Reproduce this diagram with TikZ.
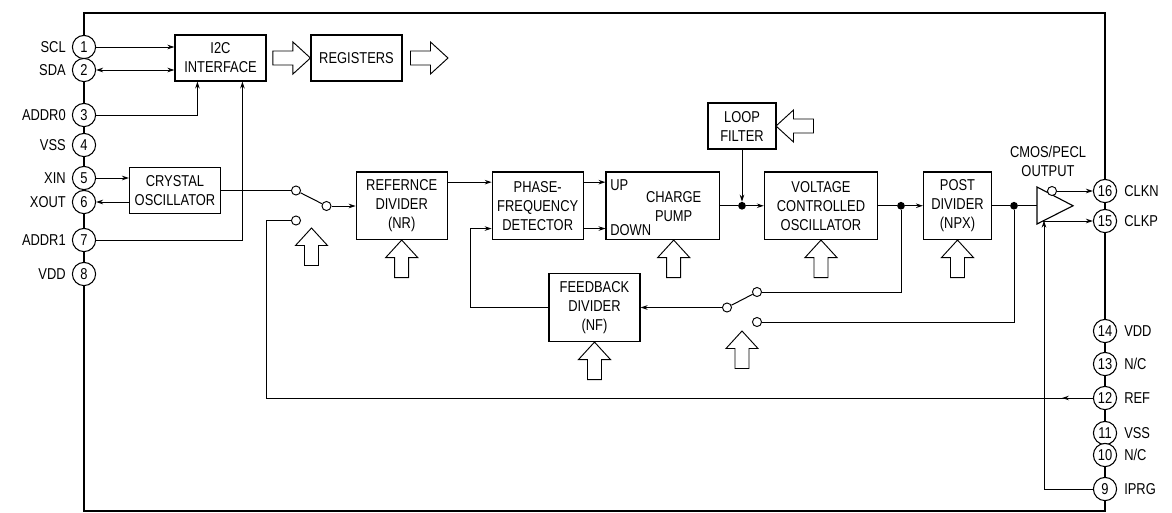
\documentclass[tikz,border=0pt]{standalone}
\usepackage{fontspec}
\setmainfont[FakeStretch=0.82]{Liberation Sans}
\usetikzlibrary{arrows.meta,calc}
\tikzset{
  x=0.75pt,y=-0.75pt,
  txt/.style={font=\fontsize{11.8}{14.25}\selectfont,align=center,inner sep=0pt},
  block/.style={txt,draw=black,line width=0.85pt,rectangle,inner sep=0pt},
  pin/.style={txt,draw=black,fill=white,circle,line width=0.8pt,minimum size=17.4pt},
  term/.style={draw=black,fill=white,circle,line width=0.7pt,minimum size=6.8pt,inner sep=0pt},
  jdot/.style={fill=black,circle,minimum size=5.8pt,inner sep=0pt},
  lleft/.style={txt,anchor=east},
  lright/.style={txt,anchor=west},
  wire/.style={line width=0.75pt},
  arr/.style={wire,-{Stealth[length=5.2pt,width=3.4pt]}},
  darr/.style={wire,{Stealth[length=5.2pt,width=3.4pt]}-{Stealth[length=5.2pt,width=3.4pt]}},
  hollowup/.pic={\draw[line width=0.7pt,line join=miter] (0,0) -- (16,17.5) -- (7,17.5) -- (7,37.5) -- (-7,37.5) -- (-7,17.5) -- (-16,17.5) -- cycle;}
}
\begin{document}
\begin{tikzpicture}
\useasboundingbox (0,0) rectangle (1172,512);
% outer frame
\coordinate (fa) at (84,13); \coordinate (fb) at (1105,511);
\draw[line width=1.5pt] (fa) rectangle (fb);
% blocks
\node[block,minimum width=68.25pt,minimum height=34.5pt] (i2c) at (220.5,58) {I2C\\INTERFACE};
\node[block,minimum width=68.25pt,minimum height=34.5pt] (reg) at (356.5,58) {REGISTERS};
\node[block,minimum width=68.25pt,minimum height=34.5pt] (xtal) at (175,190.5) {CRYSTAL\\OSCILLATOR};
\node[block,minimum width=68.25pt,minimum height=50.6pt] (refd) at (401.7,205.75) {REFERNCE\\DIVIDER\\(NR)};
\node[block,minimum width=68.25pt,minimum height=50.6pt] (pfd) at (537.7,205.75) {PHASE-\\FREQUENCY\\DETECTOR};
\node[block,minimum width=85pt,minimum height=50.6pt] (cp) at (662.7,205.75) {};
\node[txt] (cpt) at (673.7,206.5) {CHARGE\\PUMP};
\node[txt,anchor=west] (up) at (610,185) {UP};
\node[txt,anchor=west] (down) at (610,230.5) {DOWN};
\node[block,minimum width=51pt,minimum height=34.5pt] (lf) at (742,126) {LOOP\\FILTER};
\node[block,minimum width=85pt,minimum height=50.6pt] (vco) at (821,205.75) {VOLTAGE\\CONTROLLED\\OSCILLATOR};
\node[block,minimum width=51pt,minimum height=50.6pt] (post) at (957.5,205.75) {POST\\DIVIDER\\(NPX)};
\node[block,minimum width=68.25pt,minimum height=51pt] (fbd) at (594.5,307.5) {FEEDBACK\\DIVIDER\\(NF)};
\node[txt] (outl) at (1048,161.5) {CMOS/PECL\\OUTPUT};
% left pins
\foreach \n/\y/\l in {1/47/SCL,2/70/SDA,3/115/ADDR0,4/145/VSS,5/178/XIN,6/202/XOUT,7/240/ADDR1,8/274/VDD}{
  \node[pin] (p\n) at (84,\y) {\n};
  \node[lleft] (l\n) at (66,\y) {\l};
}
% right pins
\foreach \n/\y/\l in {16/191/CLKN,15/221/CLKP,14/331/VDD,13/364/N\slash C,12/398/REF,11/433/VSS,10/455/N\slash C,9/489/IPRG}{
  \node[pin] (p\n) at (1105,\y) {\n};
  \node[lright] (l\n) at (1124,\y) {\l};
}
% switches
\node[term] (sa) at (296,190.5) {};
\node[term] (sb) at (296,220.5) {};
\node[term] (sc) at (326.5,206) {};
\node[term] (ta) at (757,292) {};
\node[term] (tb) at (757,322) {};
\node[term] (tc) at (727,307.5) {};
\draw[wire] (sa) -- (sc);
\draw[wire] (tc) -- (ta);
% junction dots
\node[jdot] (d1) at (742,205.75) {};
\node[jdot] (d2) at (901,205.75) {};
\node[jdot] (d3) at (1014,205.75) {};
% output buffer
\coordinate (tl) at (1037,187); \coordinate (bl) at (1037,224); \coordinate (tip) at (1073,205.75);
\coordinate (bin) at (1037,205.75);
\coordinate (ipin) at (1044,220.6);
\coordinate (kout) at (1043,221);
\draw[line width=0.85pt,line join=miter] (tl) -- (bl) -- (tip) -- cycle;
\node[term] (bub) at (1052,191) {};
% connectors
\draw[arr] (p1) -- (p1 -| i2c.west);
\draw[darr] (p2) -- (p2 -| i2c.west);
\draw[arr] (p3) -| ($(i2c.south west)+(23,0)$);
\draw[arr] (p7) -| ($(i2c.south west)+(68,0)$);
\draw[arr] (p5) -- (p5 -| xtal.west);
\draw[arr] (p6 -| xtal.west) -- (p6);
\draw[wire] (xtal) -- (sa);
\draw[arr] (sc) -- (sc -| refd.west);
\coordinate (rout) at ($(refd.north east)+(0,10.7)$);
\draw[arr] (rout) -- (rout -| pfd.west);
\coordinate (pup) at ($(pfd.north east)+(0,10.7)$);
\coordinate (pdn) at ($(pfd.south east)+(0,-11.5)$);
\draw[arr] (pup) -- (pup -| cp.west);
\draw[arr] (pdn) -- (pdn -| cp.west);
\draw[wire] (cp) -- (d1);
\draw[arr] (d1) -- (vco);
\draw[arr] (lf) -- (d1);
\draw[wire] (vco) -- (d2);
\draw[arr] (d2) -- (post);
\draw[wire] (post) -- (d3);
\draw[wire] (d3) -- (bin);
\draw[arr] (bub) -- (p16);
\draw[arr] (kout) -- (p15);
\draw[wire] (ta) -| (d2);
\draw[wire] (tb) -| (d3);
\draw[arr] (tc) -- (fbd);
\coordinate (fbk) at (470,307.5);
\draw[arr] (fbd) -- (fbk) |- (pdn -| pfd.west);
\coordinate (rb) at (266.5,398);
\draw[wire] (sb) -| (rb) -- (p12);
\draw[arr] (p12) -- ($(p12)+(-43,0)$);
\draw[arr] (p9) -| (ipin);
% hollow arrows
\pic at (refd.south) {hollowup};
\pic at (311.5,228) {hollowup};
\pic at (cp.south -| cpt) {hollowup};
\pic at (vco.south) {hollowup};
\pic at (post.south) {hollowup};
\pic at (fbd.south) {hollowup};
\pic at (742,331) {hollowup};
\pic[rotate=-90] at (reg.west) {hollowup};
\pic[rotate=-90] at (448,58) {hollowup};
\pic[rotate=90] at (776,126) {hollowup};
\end{tikzpicture}
\end{document}
